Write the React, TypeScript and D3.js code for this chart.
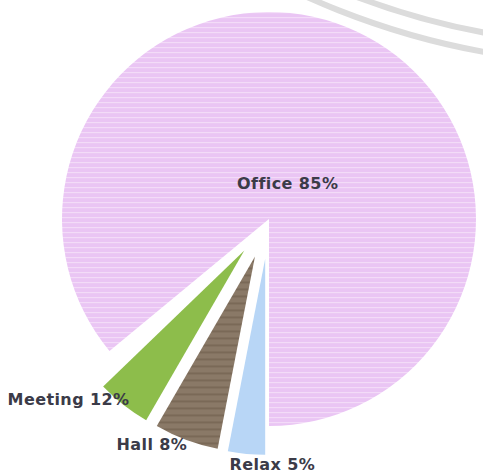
import React from 'react';
import * as d3 from 'd3';

// values printed on the chart
const labels = ['Office', 'Meeting', 'Hall', 'Relax'];
const percents = [85, 12, 8, 5];
// share of the full turn each wedge is drawn with in the picture (the printed
// numbers add up to 110, so the drawing does not follow them exactly)
const officeShare = 86.0;
const smallShares = [4.45, 5.3, 3.05]; // Meeting, Hall, Relax
const colors = ['#eac5f4', '#8dbd4b', '#8a7967', '#b8d6f6'];
const stripeColors = ['#f3dbf8', null, '#7a6957', null];

const width = 483;
const height = 475;
const TAU = Math.PI * 2;

const App = () => {
    const cx = 269;
    const cy = 219;
    const officeRadius = 207;
    const sliceRadius = 196;
    const explode = 40;

    // Office: counter-clockwise from straight down
    const officeArc = d3.pie<number>().sort(null)
        .startAngle(3 * Math.PI)
        .endAngle(3 * Math.PI - officeShare / 100 * TAU)([officeShare])[0];

    // the three small wedges sit between Office and straight down, leaving a small gap
    const smallTotal = d3.sum(smallShares);
    const smallArcs = d3.pie<number>().sort(null)
        .startAngle(Math.PI + smallTotal / 100 * TAU)
        .endAngle(Math.PI)(smallShares);

    const arcs = [officeArc, ...smallArcs];
    const dir = (a: number) => [Math.sin(a), -Math.cos(a)];

    // label nudges relative to the outer middle of each small wedge
    const labelPlace = [
        null,
        {anchor: 'end', dx: 6, dy: 0},
        {anchor: 'end', dx: 1, dy: 10},
        {anchor: 'start', dx: -17, dy: 16},
    ];

    return (
        <div style={{position: 'absolute', left: 0, top: 0}}>
            <svg width={width} height={height} style={{display: 'block'}}>
                <defs>
                    {colors.map((c, i) => stripeColors[i] ? (
                        <pattern key={i} id={'fill-' + i} patternUnits="userSpaceOnUse"
                                 width={10} height={i === 0 ? 5 : 7}>
                            <rect width={10} height={i === 0 ? 5 : 7} fill={c}/>
                            <rect y={i === 0 ? 3 : 4} width={10} height={i === 0 ? 1.2 : 2}
                                  fill={stripeColors[i] as string}/>
                        </pattern>
                    ) : null)}
                </defs>

                {/* faint ring in the top corner */}
                <circle cx={620} cy={-700} r={745} fill="none" stroke="#dcdcdc" strokeWidth={6}/>
                <circle cx={620} cy={-700} r={764} fill="none" stroke="#dcdcdc" strokeWidth={6}/>

                {arcs.map((a, i) => {
                    const mid = (a.startAngle + a.endAngle) / 2;
                    const [ux, uy] = dir(mid);
                    const off = i === 0 ? 0 : explode;
                    const r = i === 0 ? officeRadius : sliceRadius;
                    const path = d3.arc<d3.PieArcDatum<number>>().innerRadius(0).outerRadius(r)(a);
                    const fill = stripeColors[i] ? `url(#fill-${i})` : colors[i];
                    return (
                        <path key={i} d={path || ''} fill={fill}
                              transform={`translate(${cx + ux * off},${cy + uy * off})`}/>
                    );
                })}

                {arcs.map((a, i) => {
                    const mid = (a.startAngle + a.endAngle) / 2;
                    const [ux, uy] = dir(mid);
                    const text = `${labels[i]} ${percents[i]}%`;
                    let x, y, anchor;
                    if (i === 0) {
                        x = cx + ux * 44;
                        y = cy + uy * 44 + 10;
                        anchor = 'middle';
                    } else {
                        const p = labelPlace[i]!;
                        const ax = cx + ux * explode;
                        const ay = cy + uy * explode;
                        x = ax + ux * sliceRadius + p.dx;
                        y = ay + uy * sliceRadius + p.dy;
                        anchor = p.anchor;
                    }
                    return (
                        <text key={i} x={x} y={y} textAnchor={anchor}
                              fontFamily="DejaVu Sans" fontWeight="bold" fontSize={16}
                              letterSpacing={0.4} fill="#3b3b48">{text}</text>
                    );
                })}
            </svg>
        </div>
    );
};

export default App;
